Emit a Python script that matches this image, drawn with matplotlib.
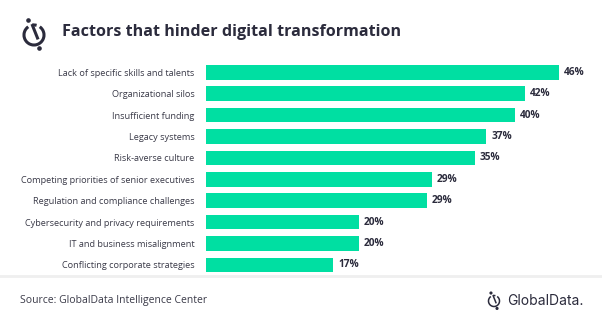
import matplotlib.pyplot as plt
from matplotlib.patches import Arc, Circle
from matplotlib.lines import Line2D

plt.rcParams['font.family'] = ['Open Sans', 'DejaVu Sans']

factors = ["Lack of specific skills and talents", "Organizational silos", "Insufficient funding",
           "Legacy systems", "Risk-averse culture", "Competing priorities of senior executives",
           "Regulation and compliance challenges", "Cybersecurity and privacy requirements",
           "IT and business misalignment", "Conflicting corporate strategies"]
# bar lengths as drawn, and the rounded labels shown next to them
shares = [46.0, 41.5, 40.2, 36.5, 35.0, 29.4, 28.8, 19.9, 19.9, 16.6]
share_labels = ["46%", "42%", "40%", "37%", "35%", "29%", "29%", "20%", "20%", "17%"]

W, H = 602, 323
fig = plt.figure(figsize=(W/100, H/100), dpi=100)
fig.patch.set_facecolor('white')

# axes in pixel terms: bars start at x=205.5, 46% ends at x=559.3
ax = fig.add_axes([205.5/W, 1-275.6/H, (559.3-205.5)/W, (275.6-61.6)/H])
ypos = list(range(len(factors)))
ax.barh(ypos, shares, height=0.68, color='#00DFA2')
ax.set_xlim(0, 46)
ax.set_ylim(9.5, -0.5)
ax.set_yticks(ypos)
ax.set_yticklabels(factors, fontsize=6.6, color='#3a3a48')
ax.tick_params(axis='y', length=0, pad=8)
ax.set_xticks([])
for s in ax.spines.values():
    s.set_visible(False)
for y, v, lab in zip(ypos, shares, share_labels):
    ax.annotate(lab, (v, y), xytext=(3.5, 0), textcoords='offset points',
                va='center', ha='left', fontsize=7.3, fontweight='bold', color='#2b2b3c')

# title
fig.text(62/W, 1-32/H, "Factors that hinder digital transformation", fontsize=11.6,
         fontweight='bold', color='#2b2b3c', va='center', ha='left')

# logo icon
def logo(cx, cy, r, lw):
    ia = fig.add_axes([0, 0, 1, 1], facecolor='none')
    ia.set_xlim(0, W)
    ia.set_ylim(H, 0)
    ia.axis('off')
    ia.add_patch(Arc((cx, cy), 2*r, 2*r, theta1=-55, theta2=235, color='#2b2b3c', lw=lw))
    ia.add_patch(Arc((cx, cy), 2*r, 2*r, theta1=260, theta2=285, color='#2b2b3c', lw=lw))
    ia.add_line(Line2D([cx-0.15*r, cx+0.35*r], [cy-0.95*r, cy+0.3*r], color='#2b2b3c', lw=lw))
    ia.add_patch(Circle((cx-0.55*r, cy-1.45*r), 0.16*r, color='#2b2b3c'))
    ia.add_patch(Circle((cx+0.55*r, cy+1.35*r), 0.16*r, color='#2b2b3c'))
    return ia

logo(34, 35, 10, 2.2)

# footer
fig.add_artist(Line2D([0, 1], [1-276/H, 1-276/H], color='#efefef', lw=2))
fig.text(20/W, 1-301/H, "Source: GlobalData Intelligence Center", fontsize=7.5,
         color='#3a3a48', va='center', ha='left')
logo(494, 301, 5.5, 1.1)
fig.text(507/W, 1-301/H, "GlobalData.", fontsize=10, color='#2b2b3c', va='center', ha='left',
         family=['Inter', 'DejaVu Sans'])

fig.savefig('out.png', dpi=100, facecolor='white')
